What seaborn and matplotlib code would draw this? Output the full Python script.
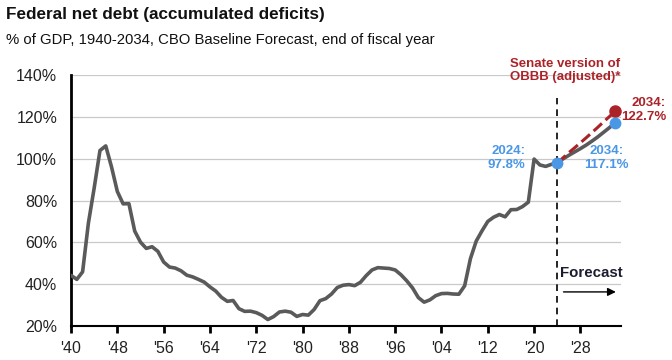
import matplotlib
matplotlib.use("Agg")
import matplotlib.pyplot as plt
import seaborn as sns
import pandas as pd
import numpy as np

# history, % of GDP, end of fiscal year
hist_years = list(range(1940, 2025))
hist_vals = [44.2, 42.3, 45.9, 69.2, 86.0, 103.9, 106.1, 96.0, 84.3, 78.4,
             78.5, 65.4, 60.1, 57.1, 57.9, 55.7, 50.6, 48.2, 47.7, 46.4,
             44.3, 43.5, 42.3, 41.0, 38.7, 36.7, 33.7, 31.8, 32.2, 28.3,
             27.0, 27.1, 26.4, 25.1, 23.1, 24.5, 26.7, 27.1, 26.6, 24.6,
             25.5, 25.2, 27.9, 32.1, 33.1, 35.3, 38.4, 39.5, 39.8, 39.3,
             40.9, 44.1, 46.8, 47.9, 47.7, 47.5, 46.8, 44.5, 41.6, 38.2,
             33.6, 31.4, 32.5, 34.5, 35.5, 35.6, 35.3, 35.2, 39.2, 52.2,
             60.6, 65.5, 70.0, 72.0, 73.3, 72.2, 75.6, 75.7, 77.1, 79.2,
             99.8, 97.0, 96.3, 97.3, 97.8]

# forecasts 2024-2034
fc_years = list(range(2024, 2035))
cbo_vals = [97.8, 99.9, 101.6, 103.2, 104.8, 106.5, 108.4, 110.4, 112.6, 114.8, 117.1]
senate_vals = [97.8, 100.4, 102.9, 105.2, 107.6, 110.0, 112.5, 115.0, 117.6, 120.1, 122.7]

yticks = [20, 40, 60, 80, 100, 120, 140]
xticks = list(range(1940, 2029, 8))
xlabels = ["'" + str(y)[2:] for y in xticks]

hist = pd.DataFrame({"year": hist_years, "debt": hist_vals})
fc = pd.DataFrame({"year": fc_years, "cbo": cbo_vals, "senate": senate_vals})

gray = "#5a5a5a"
red = "#ab2328"
blue = "#4a97e6"

sns.set_style("white")
plt.rcParams["font.family"] = ["Liberation Sans", "DejaVu Sans"]

fig = plt.figure(figsize=(6.72, 3.6), dpi=100)
ax = fig.add_axes([0.1057, 0.0944, 0.8183, 0.6973])

for y in yticks:
    ax.axhline(y, color="#c9c9c9", lw=0.9, zorder=0)

sns.lineplot(data=hist, x="year", y="debt", ax=ax, color=gray, lw=2.6,
             zorder=3)
sns.lineplot(data=fc, x="year", y="cbo", ax=ax, color=gray, lw=2.6, zorder=3)
sns.lineplot(data=fc, x="year", y="senate", ax=ax, color=red, lw=2.2,
             dashes=(3.5, 2.2), linestyle="--", zorder=4)

ax.plot([fc_years[-1]], [senate_vals[-1]], "o", color=red, ms=8, zorder=5)
ax.plot([fc_years[0], fc_years[-1]], [cbo_vals[0], cbo_vals[-1]], "o",
        color=blue, ms=7.5, lw=0, zorder=6)

ax.plot([2024, 2024], [20, 129], color="black", lw=1.2, ls=(0, (4, 3)),
        zorder=2, clip_on=False)

ax.set_xlim(1940, 2035)
ax.set_ylim(20, 140)
ax.set_yticks(yticks)
ax.set_yticklabels([f"{v}%" for v in yticks])
ax.set_xticks(xticks)
ax.set_xticklabels(xlabels)
ax.set_xlabel("")
ax.set_ylabel("")
ax.tick_params(axis="x", direction="out", length=5, width=2, color="black",
               labelsize=11.5, labelcolor="#222222", pad=6, bottom=True)
ax.tick_params(axis="y", length=0, labelsize=11.5, labelcolor="#222222", pad=10)

for s in ["top", "right"]:
    ax.spines[s].set_visible(False)
ax.spines["left"].set_linewidth(2)
ax.spines["left"].set_color("black")
ax.spines["bottom"].set_linewidth(1.5)
ax.spines["bottom"].set_color("black")

ax.text(2025.4, 142, "Senate version of\nOBBB (adjusted)*", color=red,
        fontsize=9.5, fontweight="bold", ha="center", va="center",
        linespacing=1.15)
ax.text(2042.8, 123.3, "2034:\n122.7%", color=red, fontsize=9.5,
        fontweight="bold", ha="right", va="center", multialignment="right",
        linespacing=1.15)
ax.text(2018.5, 100.4, "2024:\n97.8%", color=blue, fontsize=9.5,
        fontweight="bold", ha="right", va="center", multialignment="right",
        linespacing=1.15)
ax.text(2032.5, 100.4, "2034:\n117.1%", color=blue, fontsize=9.5,
        fontweight="bold", ha="center", va="center", multialignment="center",
        linespacing=1.15)
ax.text(2024.4, 45.4, "Forecast", color="#1c1c30", fontsize=10.8,
        fontweight="bold", ha="left", va="center")
ax.annotate("", xy=(2034.6, 36.3), xytext=(2024.6, 36.3),
            arrowprops=dict(arrowstyle="-|>", color="black", lw=1,
                            mutation_scale=12))

fig.text(0.009, 0.961, "Federal net debt (accumulated deficits)",
         fontsize=12.3, fontweight="bold", color="#111111", va="center")
fig.text(0.009, 0.889,
         "% of GDP, 1940-2034, CBO Baseline Forecast, end of fiscal year",
         fontsize=10.7, color="#111111", va="center")

fig.savefig("out.png", dpi=100)
